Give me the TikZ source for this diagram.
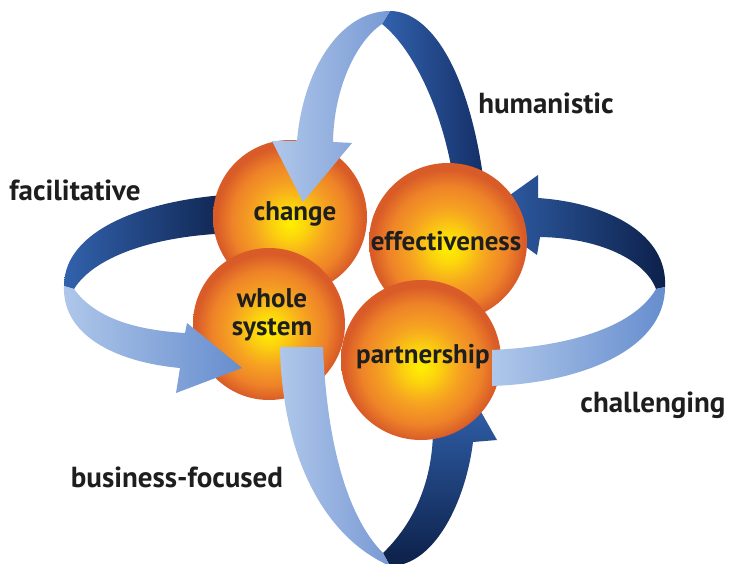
\documentclass[tikz,border=0pt]{standalone}
\usepackage{fontspec}
\setmainfont{PT Sans}

% sphere colours (centre to rim)
\definecolor{ballA}{HTML}{FFF000}
\definecolor{ballB}{HTML}{FCD60C}
\definecolor{ballC}{HTML}{F6A421}
\definecolor{ballD}{HTML}{EE8228}
\definecolor{ballE}{HTML}{D95C28}
% ribbon colours
\definecolor{paleA}{HTML}{AFC7EA}
\definecolor{paleB}{HTML}{7899D4}
\definecolor{paleC}{HTML}{668DCE}
\definecolor{deepA}{HTML}{3262AD}
\definecolor{deepB}{HTML}{142E66}
\definecolor{deepC}{HTML}{0C2049}
\definecolor{labeltext}{HTML}{1E1E1E}

\pgfdeclareradialshading{ballshade}{\pgfpoint{0bp}{-2bp}}{%
  color(0bp)=(ballA); color(5bp)=(ballB); color(12bp)=(ballC);
  color(19bp)=(ballD); color(24bp)=(ballE); color(50bp)=(ballE)}

\begin{document}
\begin{tikzpicture}[x=1pt,y=-1pt,
  ball/.style={circle, shading=ballshade, inner sep=0pt},
  balltext/.style={inner sep=0pt, align=center, text=labeltext,
    font=\bfseries\fontsize{27}{28}\selectfont},
  outerlabel/.style={text=labeltext, inner sep=0pt,
    font=\bfseries\fontsize{29}{29}\selectfont}]

\useasboundingbox (0,0) rectangle (731,564);
\fill[white] (0,0) rectangle (731,564);

% ---- back faces of the four ribbons ----
% top loop, right (back) half
\shade[left color=deepA, right color=deepB]
  (390,11) .. controls (430,11) and (472,70) .. (486,200)
  -- (456,200) .. controls (448,120) and (415,50) .. (382,24) -- cycle;
% left loop, upper (back) half
\shade[left color=deepA, right color=deepC]
  (240,194) .. controls (150,198) and (64,228) .. (64,286)
  -- (74,289) .. controls (95,255) and (160,234) .. (240,233) -- cycle;
% right loop, upper (back) half with arrowhead
\shade[left color=deepA, right color=deepC]
  (665,287) .. controls (668,235) and (610,203) .. (538,198)
  -- (538,175) -- (482,215) -- (537,255) -- (540,237)
  .. controls (600,238) and (645,260) .. (656,289) -- cycle;
% bottom loop, right (back) half with arrowhead
\shade[bottom color=deepC, top color=deepA]
  (390,566) .. controls (435,566) and (466,500) .. (473,442)
  -- (497,440) -- (472,396) -- (414,432) -- (433,432)
  .. controls (432,485) and (412,525) .. (383,553) -- cycle;

% ---- spheres and front faces ----
\node[ball, minimum size=154pt] (change) at (290,217) {};
\node[balltext] (changetext) at (295,214) {change};

% top loop, left (front) half with arrowhead
\shade[left color=paleA, right color=paleB]
  (297,141) .. controls (303,70) and (340,11) .. (390,11)
  -- (382,24) .. controls (358,40) and (334,85) .. (333,142)
  -- (352,143) -- (303,202) -- (272,141) -- cycle;

\node[ball, minimum size=158pt] (effect) at (448,242) {};
\node[balltext] (effecttext) at (446,241) {effectiveness};
\node[ball, minimum size=152pt] (whole) at (269,324) {};
\node[balltext] (wholetext) at (272,315) {whole\\system};

% left loop, lower (front) half with arrowhead
\shade[left color=paleA, right color=paleC]
  (64,286) .. controls (62,335) and (115,362) .. (180,368)
  -- (176,393) -- (242,368) -- (187,323) -- (185,333)
  .. controls (135,330) and (95,318) .. (74,289) -- cycle;

\node[ball, minimum size=160pt] (partner) at (421,360) {};
\node[balltext] (partnertext) at (423,357) {partnership};

% bottom loop, left (front) half
\shade[left color=paleA, right color=paleB]
  (280,347) .. controls (282,450) and (320,535) .. (390,566)
  -- (383,553) .. controls (350,520) and (327,450) .. (323,347) -- cycle;

% right loop, lower (front) half
\shade[left color=paleA, right color=paleC]
  (492,350) -- (492,386) .. controls (580,383) and (665,350) .. (665,287)
  -- (656,289) .. controls (635,325) and (575,346) .. (492,350) -- cycle;

% ---- labels ----
\node[outerlabel] (humanistic) at (546,103) {humanistic};
\node[outerlabel] (facilitative) at (75,190) {facilitative};
\node[outerlabel] (challenging) at (653,405) {challenging};
\node[outerlabel] (business) at (177,477) {business-focused};
\end{tikzpicture}
\end{document}
